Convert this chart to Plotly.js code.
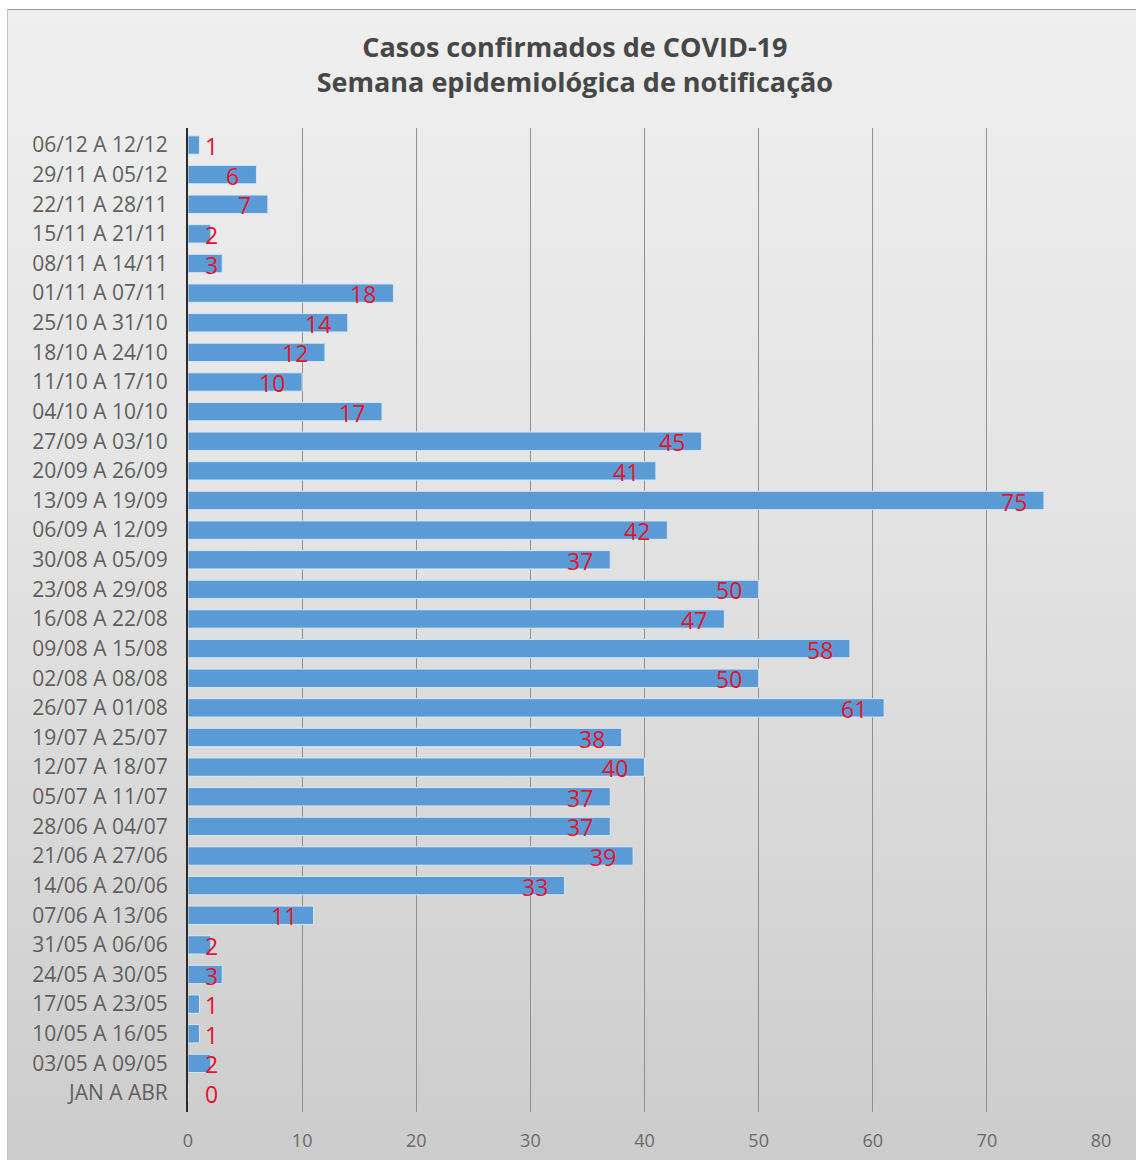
<!DOCTYPE html>
<html>
<head>
<meta charset="utf-8">
<script src="https://cdn.plot.ly/plotly-3.0.1.min.js"></script>
<style>
  html, body { margin: 0; padding: 0; background: #ffffff; width: 1136px; height: 1160px; overflow: hidden; }
  #frame { position: absolute; left: 7px; top: 9px; width: 1129px; height: 1151px;
           background: linear-gradient(to bottom, #efefef 0%, #e3e3e3 45%, #cccccc 100%); }
  #edge { position: absolute; left: 7px; top: 9px; width: 1129px; height: 1151px; box-sizing: border-box;
          border-top: 1px solid #9a9a9a; border-left: 1px solid #c4c4c4; pointer-events: none; }
  #chart { position: absolute; left: 0; top: 0; width: 1129px; height: 1151px; }
</style>
</head>
<body>
<div id="frame"><div id="chart"></div></div>
<div id="edge"></div>
<script>
const categories = [
  "JAN A ABR", "03/05 A 09/05", "10/05 A 16/05", "17/05 A 23/05", "24/05 A 30/05",
  "31/05 A 06/06", "07/06 A 13/06", "14/06 A 20/06", "21/06 A 27/06", "28/06 A 04/07",
  "05/07 A 11/07", "12/07 A 18/07", "19/07 A 25/07", "26/07 A 01/08", "02/08 A 08/08",
  "09/08 A 15/08", "16/08 A 22/08", "23/08 A 29/08", "30/08 A 05/09", "06/09 A 12/09",
  "13/09 A 19/09", "20/09 A 26/09", "27/09 A 03/10", "04/10 A 10/10", "11/10 A 17/10",
  "18/10 A 24/10", "25/10 A 31/10", "01/11 A 07/11", "08/11 A 14/11", "15/11 A 21/11",
  "22/11 A 28/11", "29/11 A 05/12", "06/12 A 12/12"
];
const cases = [
  0, 2, 1, 1, 3,
  2, 11, 33, 39, 37,
  37, 40, 38, 61, 50,
  58, 47, 50, 37, 42,
  75, 41, 45, 17, 10,
  12, 14, 18, 3, 2,
  7, 6, 1
];
const xTicks = [0, 10, 20, 30, 40, 50, 60, 70, 80];

const FONT = "'Open Sans', Lato, sans-serif";
const RED = "#e5132c";

const W = 1129, H = 1151;
const M = { l: 181, r: 35, t: 119, b: 48, pad: 0 };

const trace = {
  type: "bar",
  orientation: "h",
  x: cases,
  y: categories,
  marker: { color: "#5b9bd5", line: { color: "#d6e6f5", width: 1 } },
  width: 0.62,
  hoverinfo: "x+y"
};

// Data labels placed "inside end" like the source; short bars push the label past the axis.
const pxPerUnit = (W - M.l - M.r) / 80;
const labelAnnotations = cases.map((v, i) => {
  const txt = String(v);
  const tw = txt.length * 14;
  const fitsInside = v * pxPerUnit - 15 - tw >= 15;
  return {
    x: fitsInside ? v : 0,
    y: categories[i],
    xref: "x", yref: "y",
    text: txt,
    showarrow: false,
    xanchor: fitsInside ? "right" : "left",
    xshift: fitsInside ? -15 : 15,
    yshift: -1,
    font: { family: FONT, size: 23, color: RED }
  };
});

const layout = {
  width: W, height: H,
  paper_bgcolor: "rgba(0,0,0,0)",
  plot_bgcolor: "rgba(0,0,0,0)",
  margin: M,
  showlegend: false,
  font: { family: FONT, color: "#595959" },
  title: {
    text: "<b>Casos confirmados de COVID-19</b><br><b>Semana epidemiológica de notificação</b>",
    x: 0.503, xanchor: "center", y: 1 - 47.5 / H, yanchor: "middle",
    font: { family: FONT, size: 27, color: "#474747" }
  },
  xaxis: {
    range: [0, 80],
    tickvals: xTicks,
    ticktext: xTicks.map(String),
    showgrid: true, gridcolor: "#8f8f8f", gridwidth: 1,
    zeroline: false, showline: false, ticks: "",
    ticklabelstandoff: 16,
    tickfont: { family: FONT, size: 18, color: "#6a6a6a" },
    automargin: false
  },
  yaxis: {
    type: "category",
    categoryorder: "array", categoryarray: categories,
    showgrid: false, zeroline: false,
    showline: true, linecolor: "#2b2b2b", linewidth: 2,
    ticks: "", ticklabelstandoff: 14,
    tickfont: { family: FONT, size: 21, color: "#5f5f5f" },
    automargin: false
  },
  annotations: labelAnnotations
};

Plotly.newPlot("chart", [trace], layout, { displayModeBar: false, staticPlot: true });
</script>
</body>
</html>
